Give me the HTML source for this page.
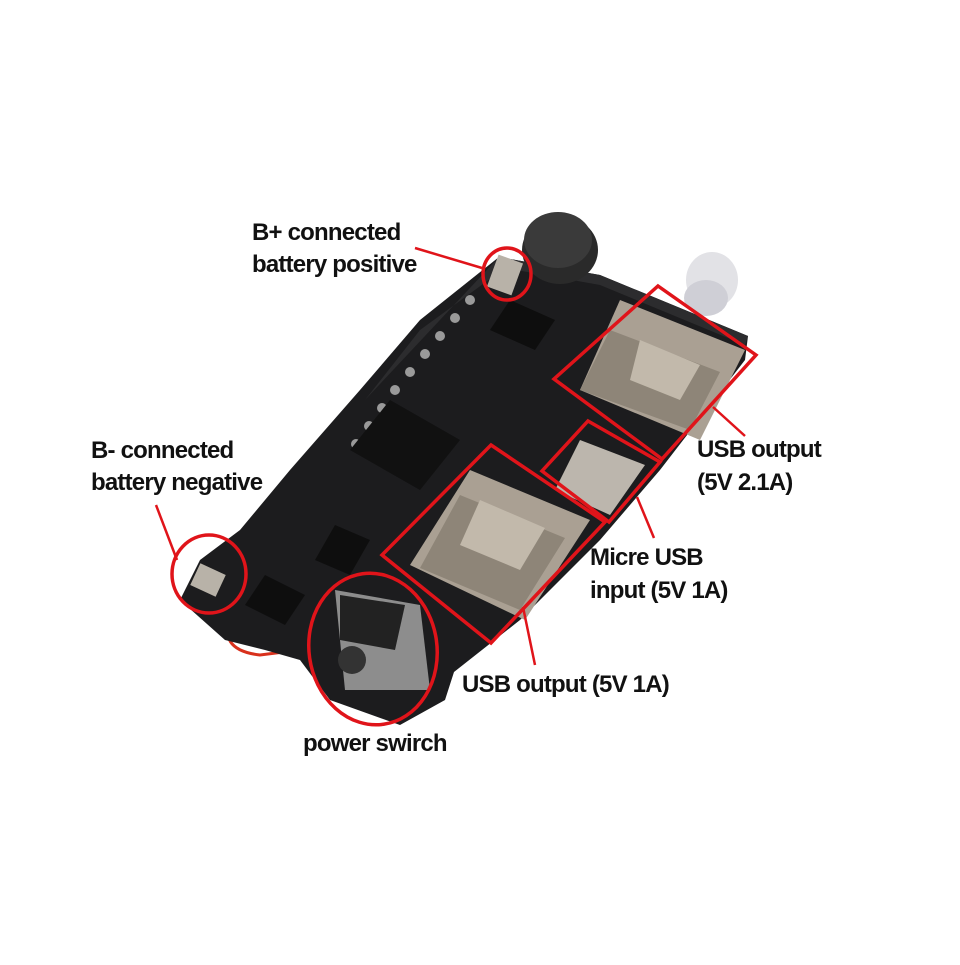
<!DOCTYPE html>
<html><head><meta charset="utf-8"><style>
html,body{margin:0;padding:0;background:#fff;}
svg text{font-family:"Liberation Sans",sans-serif;font-weight:bold;font-size:24px;fill:#111;letter-spacing:-0.8px;}
</style></head><body>
<svg width="960" height="960" viewBox="0 0 960 960" xmlns="http://www.w3.org/2000/svg">
<rect width="960" height="960" fill="#fff"/>
<path d="M232,612 Q215,650 260,655 L300,650" stroke="#d8301c" stroke-width="3" fill="none"/>
<polygon points="499,257 600,275 748,336 745,360 660,470 600,540 520,620 454,672 445,700 400,725 330,700 300,660 265,650 225,640 180,600 200,560 240,530 290,470 360,390 420,320" fill="#1c1c1e"/>
<polygon points="499,257 600,275 748,336 745,345 600,285 505,268 420,330 365,400" fill="#2c2c2e"/>
<g fill="#9a9a9a">
<circle cx="470" cy="300" r="5"/><circle cx="455" cy="318" r="5"/><circle cx="440" cy="336" r="5"/><circle cx="425" cy="354" r="5"/><circle cx="410" cy="372" r="5"/><circle cx="395" cy="390" r="5"/><circle cx="382" cy="408" r="5"/><circle cx="369" cy="426" r="5"/><circle cx="356" cy="444" r="5"/>
</g>
<polygon points="390,400 460,440 420,490 350,450" fill="#111"/>
<polygon points="510,300 555,320 535,350 490,330" fill="#0e0e0e"/>
<polygon points="335,525 370,540 350,575 315,560" fill="#0e0e0e"/>
<polygon points="265,575 305,595 285,625 245,605" fill="#0e0e0e"/>
<rect x="492" y="258" width="26" height="34" fill="#b8b2a8" transform="rotate(20 505 275)"/>
<rect x="194" y="568" width="28" height="24" fill="#b8b2a8" transform="rotate(25 208 580)"/>
<ellipse cx="560" cy="250" rx="38" ry="34" fill="#2a2a2a"/>
<ellipse cx="558" cy="240" rx="34" ry="28" fill="#3a3a3a"/>
<ellipse cx="712" cy="280" rx="26" ry="28" fill="#e2e2e6"/>
<ellipse cx="706" cy="298" rx="22" ry="18" fill="#cfcfd6"/>
<polygon points="620,300 745,350 700,440 580,390" fill="#aaa093"/>
<polygon points="610,330 720,372 690,430 580,390" fill="#8e8578"/>
<polygon points="640,340 700,365 680,400 630,380" fill="#c2b9ab"/>
<polygon points="470,470 590,520 525,620 410,565" fill="#aaa093"/>
<polygon points="460,495 565,538 520,610 420,568" fill="#8e8578"/>
<polygon points="480,500 545,528 520,570 460,545" fill="#c2b9ab"/>
<polygon points="580,440 645,465 610,515 555,490" fill="#bcb6ad"/>
<polygon points="335,590 420,605 430,690 345,690" fill="#8d8d8d"/>
<polygon points="340,595 405,605 395,650 340,640" fill="#222"/>
<circle cx="352" cy="660" r="14" fill="#333"/>
<g stroke="#e0141a" stroke-width="3.5" fill="none">
<ellipse cx="507" cy="274" rx="24" ry="26"/>
<ellipse cx="209" cy="574" rx="37" ry="39"/>
<ellipse cx="373" cy="649" rx="64" ry="76" transform="rotate(-8 373 649)"/>
<polygon points="658,286 756,355 662,459 554,379"/>
<polygon points="491,445 605,522 491,643 382,555"/>
<polygon points="588,421 660,462 609,522 542,471"/>
</g>
<g stroke="#e0141a" stroke-width="2.5">
<line x1="415" y1="248" x2="482" y2="268"/>
<line x1="156" y1="505" x2="177" y2="560"/>
<line x1="713" y1="407" x2="745" y2="436"/>
<line x1="637" y1="497" x2="654" y2="538"/>
<line x1="523" y1="607" x2="535" y2="665"/>
</g>
<text x="252" y="240">B+ connected</text>
<text x="252" y="272">battery positive</text>
<text x="91" y="458">B- connected</text>
<text x="91" y="490">battery negative</text>
<text x="697" y="457">USB output</text>
<text x="697" y="490">(5V 2.1A)</text>
<text x="590" y="565">Micre USB</text>
<text x="590" y="598">input (5V 1A)</text>
<text x="462" y="692">USB output (5V 1A)</text>
<text x="303" y="751">power swirch</text>
</svg>
</body></html>
